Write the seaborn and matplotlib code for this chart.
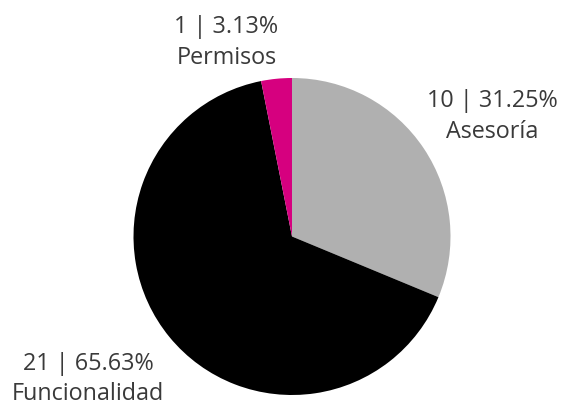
import matplotlib
matplotlib.use("Agg")
import matplotlib.pyplot as plt
import seaborn as sns

categories = ["Asesoría", "Funcionalidad", "Permisos"]
counts = [10, 21, 1]
shares = [31.25, 65.63, 3.13]
colors = ["#b0b0b0", "#000000", "#d6007f"]

# label anchors: x centre and baseline of the first line (figure pixels, origin bottom-left)
label_pos = [(492, 293), (88, 30), (226.5, 367)]
line_gap = 30.5

sns.set_theme(style="white")
plt.rcParams["font.family"] = ["Open Sans", "DejaVu Sans"]

fig = plt.figure(figsize=(5.63, 4.0), dpi=100)
ax = fig.add_axes([0, 0, 1, 1])

ax.pie(counts, colors=colors, startangle=90, counterclock=False,
       center=(292, 163.5), radius=158.5, frame=True,
       wedgeprops=dict(linewidth=0))
ax.set_xlim(0, 563)
ax.set_ylim(0, 400)
ax.set_aspect("equal")
ax.axis("off")

for cat, n, pct, (x, y) in zip(categories, counts, shares, label_pos):
    ax.text(x, y, f"{n} | {pct:.2f}%", ha="center", va="baseline",
            fontsize=16.8, color="#3a3a3a")
    ax.text(x, y - line_gap, cat, ha="center", va="baseline",
            fontsize=16.8, color="#3a3a3a")

fig.savefig("out.png", dpi=100)
